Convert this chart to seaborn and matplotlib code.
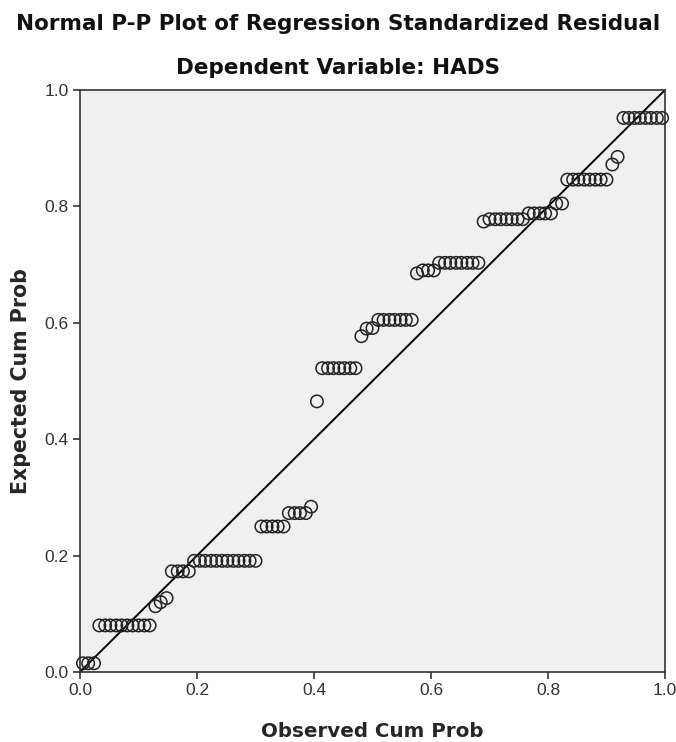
import matplotlib
matplotlib.use("Agg")
import matplotlib.pyplot as plt
import seaborn as sns
import pandas as pd

# Observed cumulative probability of each standardized residual
observed_cum_prob = [
    0.005, 0.014, 0.024,
    0.033, 0.043, 0.052, 0.062, 0.071, 0.081, 0.090, 0.100, 0.110, 0.119,
    0.129, 0.138, 0.148,
    0.157, 0.167, 0.176, 0.186,
    0.195, 0.205, 0.214, 0.224, 0.233, 0.243, 0.252, 0.262, 0.271, 0.281, 0.290, 0.300,
    0.310, 0.319, 0.329, 0.338, 0.348,
    0.357, 0.367, 0.376, 0.386,
    0.395,
    0.405,
    0.414, 0.424, 0.433, 0.443, 0.452, 0.462, 0.471,
    0.481,
    0.490, 0.500,
    0.510, 0.519, 0.529, 0.538, 0.548, 0.557, 0.567,
    0.576,
    0.586, 0.595, 0.605,
    0.614, 0.624, 0.633, 0.643, 0.652, 0.662, 0.671, 0.681,
    0.690,
    0.700, 0.710, 0.719, 0.729, 0.738, 0.748, 0.757,
    0.767, 0.776, 0.786, 0.795, 0.805,
    0.814, 0.824,
    0.833, 0.843, 0.852, 0.862, 0.871, 0.881, 0.890, 0.900,
    0.910, 0.919,
    0.929, 0.938, 0.948, 0.957, 0.967, 0.976, 0.986, 0.995,
]

# Expected cumulative probability under normality
expected_cum_prob = [
    0.015, 0.015, 0.015,
    0.080, 0.080, 0.080, 0.080, 0.080, 0.080, 0.080, 0.080, 0.080, 0.080,
    0.113, 0.120, 0.127,
    0.173, 0.173, 0.173, 0.173,
    0.191, 0.191, 0.191, 0.191, 0.191, 0.191, 0.191, 0.191, 0.191, 0.191, 0.191, 0.191,
    0.250, 0.250, 0.250, 0.250, 0.250,
    0.273, 0.273, 0.273, 0.273,
    0.284,
    0.465,
    0.522, 0.522, 0.522, 0.522, 0.522, 0.522, 0.522,
    0.577,
    0.590, 0.591,
    0.605, 0.605, 0.605, 0.605, 0.605, 0.605, 0.605,
    0.685,
    0.690, 0.690, 0.690,
    0.703, 0.703, 0.703, 0.703, 0.703, 0.703, 0.703, 0.703,
    0.774,
    0.778, 0.778, 0.778, 0.778, 0.778, 0.778, 0.778,
    0.788, 0.788, 0.788, 0.788, 0.788,
    0.805, 0.805,
    0.846, 0.846, 0.846, 0.846, 0.846, 0.846, 0.846, 0.846,
    0.872, 0.885,
    0.952, 0.952, 0.952, 0.952, 0.952, 0.952, 0.952, 0.952,
]

tick_values = [0.0, 0.2, 0.4, 0.6, 0.8, 1.0]
tick_labels = ["0.0", "0.2", "0.4", "0.6", "0.8", "1.0"]
reference_line = [0.0, 1.0]

df = pd.DataFrame({"Observed Cum Prob": observed_cum_prob,
                   "Expected Cum Prob": expected_cum_prob})

sns.set_style("ticks")
plt.rcParams["font.family"] = ["Liberation Sans", "DejaVu Sans"]

fig = plt.figure(figsize=(6.76, 7.42), dpi=100)
ax = fig.add_axes([80 / 676, (742 - 672) / 742, 585 / 676, 582 / 742])
ax.set_facecolor("#f0f0f0")

sns.lineplot(x=reference_line, y=reference_line, ax=ax, color="black",
             linewidth=1.4, zorder=2)
sns.scatterplot(data=df, x="Observed Cum Prob", y="Expected Cum Prob", ax=ax,
                marker="o", s=80, facecolor="none", edgecolor="#222222",
                linewidth=1.1, zorder=3, clip_on=False)

ax.set_xlim(0, 1)
ax.set_ylim(0, 1)
ax.set_xticks(tick_values)
ax.set_xticklabels(tick_labels)
ax.set_yticks(tick_values)
ax.set_yticklabels(tick_labels)
ax.tick_params(axis="both", direction="out", length=5, width=1.2,
               labelsize=12.5, labelcolor="#333333", color="#333333", pad=3)
for side in ["left", "bottom", "top", "right"]:
    ax.spines[side].set_visible(True)
    ax.spines[side].set_color("#333333")
    ax.spines[side].set_linewidth(1.2)

ax.set_xlabel("Observed Cum Prob", fontsize=14.3, fontweight="bold",
              family=["DejaVu Sans"], labelpad=17)
ax.set_ylabel("Expected Cum Prob", fontsize=14.8, fontweight="bold",
              family=["DejaVu Sans"], labelpad=10)

fig.text(0.5, 1 - 24 / 742, "Normal P-P Plot of Regression Standardized Residual",
         ha="center", va="center", fontsize=15.5, fontweight="bold",
         family=["DejaVu Sans"], color="#111111")
fig.text(0.5, 1 - 68 / 742, "Dependent Variable: HADS",
         ha="center", va="center", fontsize=15.5, fontweight="bold",
         family=["DejaVu Sans"], color="#111111")

fig.savefig("out.png", dpi=100)
